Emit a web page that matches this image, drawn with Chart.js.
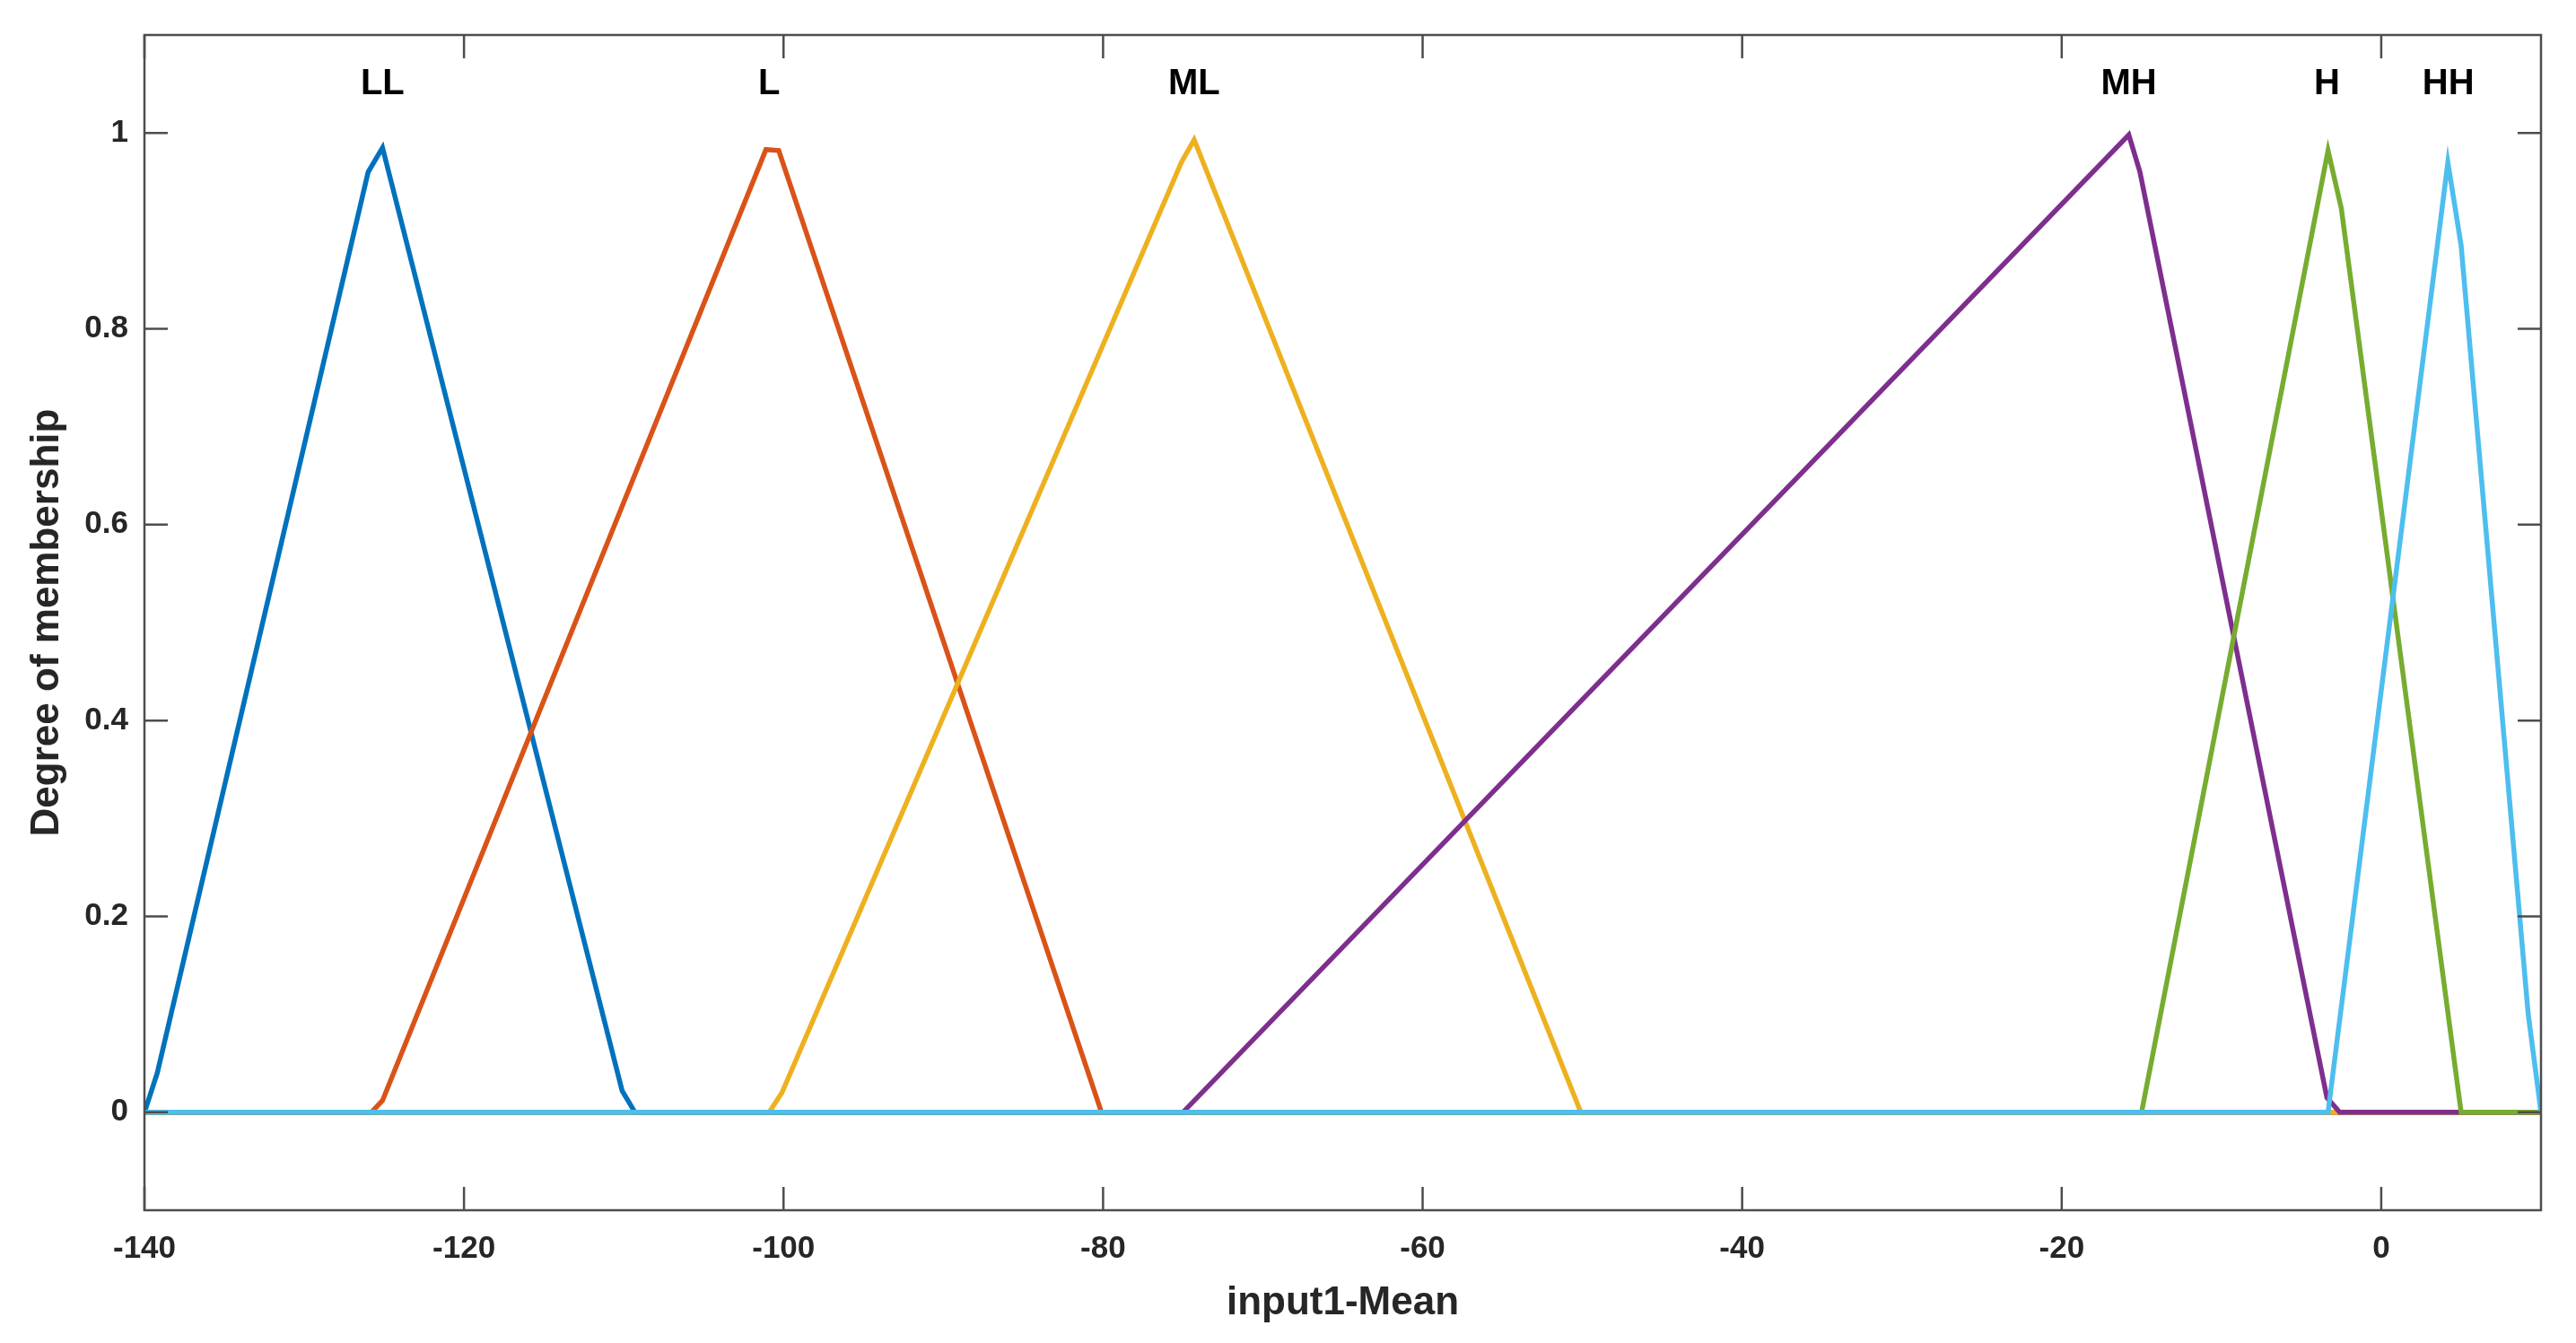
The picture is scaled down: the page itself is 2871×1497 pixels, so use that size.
<!DOCTYPE html>
<html>
<head>
<meta charset="utf-8">
<script src="https://cdn.jsdelivr.net/npm/chart.js@4"></script>
<style>
	html, body { margin: 0; padding: 0; background: #fff; }
	#container { width: 2871px; height: 1497px; }
</style>
</head>
<body>
<div id="container"><canvas id="mf-chart"></canvas></div>
<script>
// membership functions, vertices
const names = ["LL", "L", "ML", "MH", "H", "HH"];
const colors = ["#0072BD", "#D95319", "#EDB120", "#7E2F8E", "#77AC30", "#4DBEEE"];

const xLL = [-140, -139.2, -126, -125.1, -110.1, -109.3, 10];
const yLL = [0, 0.04, 0.96, 0.985, 0.022, 0, 0];
const xL = [-140, -125.8, -125.1, -101.1, -100.3, -80.1, 10];
const yL = [0, 0, 0.012, 0.983, 0.982, 0, 0];
const xML = [-140, -100.9, -100.1, -75.1, -74.3, -50.1, 10];
const yML = [0, 0, 0.02, 0.97, 0.993, 0, 0];
const xMH = [-140, -75, -15.8, -15.1, -3.4, -2.6, 10];
const yMH = [0, 0, 0.998, 0.96, 0.015, 0, 0];
const xH = [-140, -15, -3.33, -2.5, 5, 10];
const yH = [0, 0, 0.982, 0.923, 0, 0];
const xHH = [-140, -3.33, 4.17, 5, 9.2, 10];
const yHH = [0, 0, 0.97, 0.885, 0.1, 0];

// label anchor for each function (x, y)
const labelX = [-125.1, -100.9, -74.3, -15.8, -3.4, 4.2];
const labelY = [1.05, 1.05, 1.05, 1.05, 1.05, 1.05];

const xTicks = [-140, -120, -100, -80, -60, -40, -20, 0];
const yTicks = [0, 0.2, 0.4, 0.6, 0.8, 1];

const xs = [xLL, xL, xML, xMH, xH, xHH];
const ys = [yLL, yL, yML, yMH, yH, yHH];

const FONT = "'Liberation Sans', Arial, Helvetica, sans-serif";

// box with inward ticks on all four sides, plus the MF names
const framePlugin = {
	id: "frame",
	afterDraw(chart) {
		const ctx = chart.ctx;
		const a = chart.chartArea;
		const sx = chart.scales.x;
		const sy = chart.scales.y;
		const len = 26;
		ctx.save();
		ctx.strokeStyle = "#4d4d4d";
		ctx.lineWidth = 2.5;
		ctx.strokeRect(a.left, a.top, a.right - a.left, a.bottom - a.top);
		ctx.beginPath();
		xTicks.forEach((v) => {
			const px = sx.getPixelForValue(v);
			ctx.moveTo(px, a.bottom);
			ctx.lineTo(px, a.bottom - len);
			ctx.moveTo(px, a.top);
			ctx.lineTo(px, a.top + len);
		});
		yTicks.forEach((v) => {
			const py = sy.getPixelForValue(v);
			ctx.moveTo(a.left, py);
			ctx.lineTo(a.left + len, py);
			ctx.moveTo(a.right, py);
			ctx.lineTo(a.right - len, py);
		});
		ctx.stroke();

		ctx.fillStyle = "#000";
		ctx.font = "bold 40px " + FONT;
		ctx.textAlign = "center";
		ctx.textBaseline = "middle";
		names.forEach((n, i) => {
			ctx.fillText(n, sx.getPixelForValue(labelX[i]), sy.getPixelForValue(labelY[i]));
		});
		ctx.restore();
	},
};

const datasets = names.map((n, i) => ({
	label: n,
	data: xs[i].map((x, j) => ({ x: x, y: ys[i][j] })),
	borderColor: colors[i],
	backgroundColor: colors[i],
	borderWidth: 5.5,
	pointRadius: 0,
	tension: 0,
	fill: false,
	order: names.length - 1 - i,
}));

new Chart(document.getElementById("mf-chart"), {
	type: "line",
	data: { datasets: datasets },
	options: {
		responsive: true,
		maintainAspectRatio: false,
		animation: false,
		layout: { padding: { left: 0, top: 33, right: 39, bottom: 0 } },
		plugins: {
			legend: { display: false },
			tooltip: { enabled: false },
		},
		scales: {
			x: {
				type: "linear",
				min: -140,
				max: 10,
				afterBuildTicks: (scale) => {
					scale.ticks = xTicks.map((v) => ({ value: v }));
				},
				afterFit: (scale) => {
					scale.height = 148;
				},
				grid: { display: false, drawTicks: false },
				border: { display: false },
				ticks: {
					padding: 22,
					color: "#262626",
					font: { family: FONT, size: 35, weight: "bold" },
					callback: (v) => String(v),
				},
				title: {
					display: true,
					text: "input1-Mean",
					color: "#262626",
					padding: { top: 0, bottom: 18 },
					font: { family: FONT, size: 44, weight: "bold" },
				},
			},
			y: {
				type: "linear",
				min: -0.1,
				max: 1.1,
				afterBuildTicks: (scale) => {
					scale.ticks = yTicks.map((v) => ({ value: v }));
				},
				afterFit: (scale) => {
					scale.width = 161;
				},
				grid: { display: false, drawTicks: false },
				border: { display: false },
				ticks: {
					padding: 18,
					color: "#262626",
					font: { family: FONT, size: 35, weight: "bold" },
					callback: (v) => String(Math.round(v * 10) / 10),
				},
				title: {
					display: true,
					text: "Degree of membership",
					color: "#262626",
					padding: { top: 26, bottom: 0 },
					font: { family: FONT, size: 44, weight: "bold" },
				},
			},
		},
	},
	plugins: [framePlugin],
});
</script>
</body>
</html>
